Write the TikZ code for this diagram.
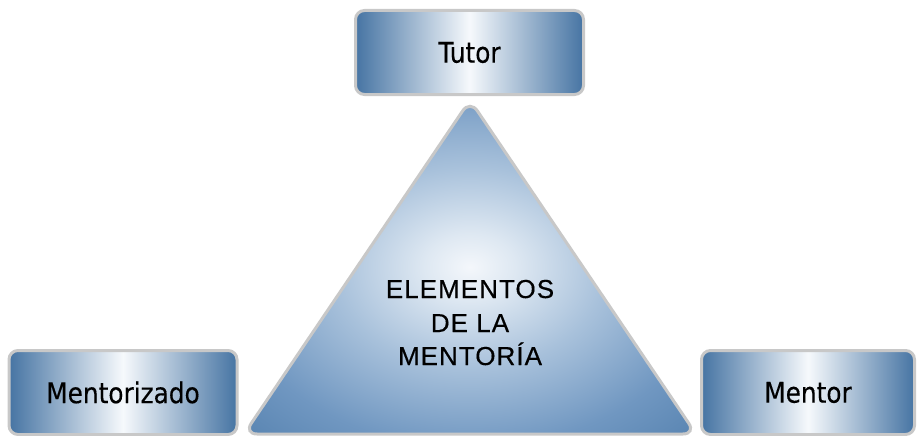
\documentclass[tikz,border=0pt]{standalone}
\usepackage{fontspec}
\setmainfont{Liberation Sans}
\newfontfamily\boxfont[FakeBold=0.3]{DejaVu Sans}
\newfontfamily\trifont[LetterSpace=4,FakeBold=0.4]{Liberation Sans}
\definecolor{bedge}{RGB}{70,116,163}
\definecolor{bmid}{RGB}{246,249,252}
\definecolor{rim}{RGB}{200,200,200}
\definecolor{tc0}{RGB}{244,247,251}
\definecolor{tc1}{RGB}{222,232,242}
\definecolor{tc2}{RGB}{168,193,219}
\definecolor{tc3}{RGB}{112,151,193}
\definecolor{tc4}{RGB}{82,127,173}
\definecolor{tc5}{RGB}{72,118,166}
\pgfdeclareradialshading{trishade}{\pgfpoint{0bp}{0bp}}{color(0bp)=(tc0); color(5bp)=(tc1); color(15bp)=(tc2); color(27bp)=(tc3); color(38bp)=(tc4); color(50bp)=(tc5)}
\begin{document}
\begin{tikzpicture}[x=1pt,y=-1pt,
  rolebox/.style={draw=rim, line width=3pt, rounded corners=9pt,
    left color=bedge, right color=bedge, middle color=bmid,
    minimum width=228pt, minimum height=84pt, inner sep=0pt,
    font=\boxfont\fontsize{28.5}{34}\selectfont},
  tritext/.style={anchor=base, inner sep=0pt, font=\trifont\fontsize{26}{30}\selectfont}]
\useasboundingbox (0,0) rectangle (918,436);
\shadedraw[draw=rim, line width=3pt, rounded corners=13pt, shading=trishade]
  (470,100) -- (696,434) -- (244,434) -- cycle;
\node[rolebox] (tutor) at (469.5,52.5) {\scalebox{0.87}[1]{Tutor}};
\node[rolebox] (mentorizado) at (123,392.5) {\scalebox{0.87}[1]{Mentorizado}};
\node[rolebox, minimum width=213pt] (mentor) at (808,392.5) {\scalebox{0.87}[1]{Mentor}};
\node[tritext] (t1) at (470,298) {ELEMENTOS};
\node[tritext] (t2) at (470,332) {DE LA};
\node[tritext] (t3) at (470,365) {MENTORÍA};
\end{tikzpicture}
\end{document}
